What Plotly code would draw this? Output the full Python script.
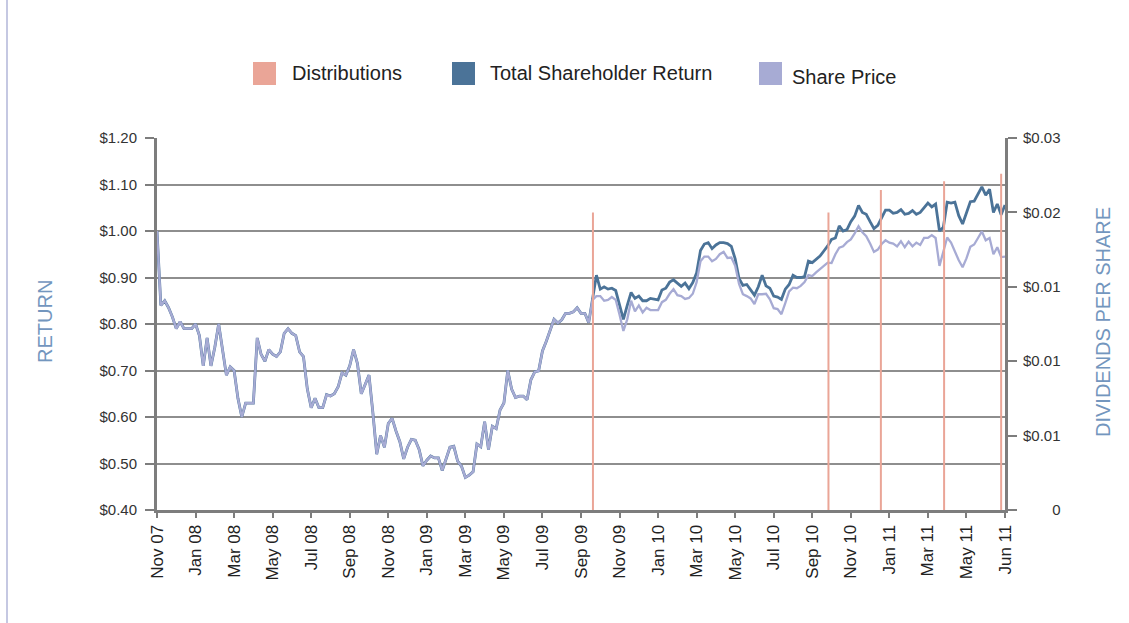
import plotly.graph_objects as go

# ---------------- data ----------------
tick_labels = ["Nov 07", "Jan 08", "Mar 08", "May 08", "Jul 08", "Sep 08", "Nov 08",
               "Jan 09", "Mar 09", "May 09", "Jul 09", "Sep 09", "Nov 09", "Jan 10",
               "Mar 10", "May 10", "Jul 10", "Sep 10", "Nov 10", "Jan 11", "Mar 11",
               "May 11", "Jun 11"]
points_per_label = 10  # sampled periods between consecutive tick labels

share_price = [
    1.00, 0.84, 0.85, 0.835, 0.815, 0.79, 0.805, 0.79, 0.79, 0.79,
    0.80, 0.775, 0.71, 0.77, 0.71, 0.75, 0.80, 0.745, 0.69, 0.708,
    0.70, 0.64, 0.60, 0.63, 0.63, 0.63, 0.77, 0.735, 0.72, 0.745,
    0.735, 0.73, 0.74, 0.78, 0.79, 0.78, 0.775, 0.74, 0.73, 0.66,
    0.62, 0.64, 0.62, 0.62, 0.648, 0.645, 0.65, 0.665, 0.695, 0.69,
    0.71, 0.745, 0.715, 0.65, 0.67, 0.69, 0.61, 0.52, 0.56, 0.535,
    0.586, 0.597, 0.57, 0.547, 0.51, 0.535, 0.552, 0.55, 0.53, 0.495,
    0.507, 0.516, 0.512, 0.512, 0.485, 0.51, 0.535, 0.537, 0.505, 0.494,
    0.47, 0.475, 0.482, 0.542, 0.536, 0.59, 0.53, 0.58, 0.575, 0.615,
    0.63, 0.70, 0.66, 0.642, 0.645, 0.645, 0.637, 0.68, 0.697, 0.699,
    0.742, 0.763, 0.785, 0.81, 0.802, 0.809, 0.823, 0.823, 0.826, 0.835,
    0.823, 0.823, 0.803, 0.852, 0.86, 0.86, 0.85, 0.852, 0.858, 0.852,
    0.82, 0.785, 0.81, 0.85, 0.827, 0.84, 0.825, 0.835, 0.83, 0.83,
    0.83, 0.847, 0.852, 0.865, 0.875, 0.862, 0.86, 0.854, 0.856, 0.865,
    0.89, 0.935, 0.945, 0.945, 0.935, 0.94, 0.95, 0.955, 0.942, 0.943,
    0.925, 0.886, 0.864, 0.86, 0.855, 0.843, 0.864, 0.864, 0.865, 0.853,
    0.834, 0.832, 0.821, 0.845, 0.87, 0.878, 0.877, 0.882, 0.89, 0.905,
    0.903, 0.911, 0.918, 0.924, 0.932, 0.931, 0.95, 0.964, 0.967, 0.976,
    0.982, 0.995, 1.01, 0.997, 0.989, 0.973, 0.955, 0.96, 0.972, 0.98,
    0.975, 0.973, 0.967, 0.978, 0.965, 0.977, 0.967, 0.975, 0.97, 0.985,
    0.985, 0.991, 0.985, 0.925, 0.953, 0.986, 0.975, 0.955, 0.937, 0.922,
    0.941, 0.966, 0.971, 0.985, 0.999, 0.98, 0.985, 0.95, 0.965, 0.944, 0.945,
]

# Total shareholder return equals the share price until the first distribution
first_distribution_index = 113
tsr_after_first_distribution = [
    0.859, 0.905, 0.875, 0.88, 0.875, 0.877, 0.872,
    0.84, 0.81, 0.84, 0.868, 0.855, 0.86, 0.85, 0.85, 0.855, 0.854,
    0.852, 0.873, 0.877, 0.89, 0.895, 0.888, 0.881, 0.888, 0.876, 0.889,
    0.91, 0.958, 0.972, 0.975, 0.962, 0.97, 0.975, 0.975, 0.973, 0.967,
    0.94, 0.898, 0.883, 0.885, 0.873, 0.862, 0.88, 0.905, 0.882, 0.877,
    0.86, 0.858, 0.853, 0.875, 0.885, 0.905, 0.9, 0.9, 0.902, 0.935,
    0.932, 0.939, 0.946, 0.957, 0.968, 0.982, 0.985, 1.011, 1.0, 1.003,
    1.02, 1.032, 1.055, 1.04, 1.036, 1.02, 1.005, 1.012, 1.028, 1.045,
    1.045, 1.038, 1.04, 1.046, 1.036, 1.038, 1.044, 1.036, 1.04, 1.05,
    1.06, 1.052, 1.058, 1.0, 1.008, 1.062, 1.06, 1.062, 1.033, 1.015,
    1.038, 1.063, 1.064, 1.08, 1.095, 1.077, 1.09, 1.04, 1.058, 1.035, 1.056,
]
total_shareholder_return = share_price[:first_distribution_index] + tsr_after_first_distribution

distribution_period = [113.1, 174.2, 187.8, 204.2, 219.0]
distribution_per_share = [0.0200, 0.0200, 0.0215, 0.0221, 0.0226]

left_ticks = [0.40, 0.50, 0.60, 0.70, 0.80, 0.90, 1.00, 1.10, 1.20]
right_ticks = [0, 0.005, 0.010, 0.015, 0.020, 0.025]
right_tick_text = ["\u00a0" * 7 + "0", "$0.01", "$0.01", "$0.01", "$0.02", "$0.03"]

# ---------------- styles ----------------
C_DIST = "#eaa597"
C_TSR = "#4b7398"
C_SP = "#a7abd4"
C_AXIS = "#7d7d7d"
C_GRID = "#8e8e8e"
C_TITLE = "#7396be"
FONT = "Liberation Sans, Arial, Helvetica, sans-serif"

W, H = 1129, 623
L, R, T, B = 157, 1005, 138, 510  # plot area in pixels


def px(xp):
    return (xp - L) / (R - L)


def py(yp):
    return (B - yp) / (B - T)


periods = list(range(len(share_price)))
n_intervals = (len(tick_labels) - 1) * points_per_label
tick_positions = [i * points_per_label for i in range(len(tick_labels))]

# distributions drawn as thin vertical stems from zero to the amount
stem_x, stem_y = [], []
for p, v in zip(distribution_period, distribution_per_share):
    stem_x += [p, p, None]
    stem_y += [0, v, None]

fig = go.Figure()
fig.add_trace(go.Scatter(x=periods, y=total_shareholder_return, mode="lines",
                         line=dict(color=C_TSR, width=2.8), name="Total Shareholder Return",
                         showlegend=False, hoverinfo="skip"))
fig.add_trace(go.Scatter(x=periods, y=share_price, mode="lines",
                         line=dict(color=C_SP, width=2.3), name="Share Price",
                         showlegend=False, hoverinfo="skip"))
fig.add_trace(go.Scatter(x=stem_x, y=stem_y, yaxis="y2", mode="lines",
                         line=dict(color=C_DIST, width=2), name="Distributions",
                         showlegend=False, hoverinfo="skip"))

fig.update_layout(
    width=W, height=H,
    margin=dict(l=L, r=W - R, t=T, b=H - B, pad=0),
    paper_bgcolor="white", plot_bgcolor="white",
    font=dict(family=FONT, color="#333333"),
    showlegend=False,
    xaxis=dict(
        range=[0, n_intervals], tickmode="array", tickvals=tick_positions,
        ticktext=tick_labels, tickangle=-90, tickfont=dict(size=17, color="#222"),
        showgrid=False, zeroline=False, showline=True, linecolor=C_AXIS, linewidth=3,
        ticks="outside", ticklen=5, tickwidth=2, tickcolor=C_AXIS,
    ),
    yaxis=dict(
        range=[0.40, 1.20], tickmode="array", tickvals=left_ticks, tickformat="$.2f",
        tickfont=dict(size=15, color="#333"), ticklabelstandoff=5,
        showgrid=True, gridcolor=C_GRID, gridwidth=2, zeroline=False,
        showline=True, linecolor=C_AXIS, linewidth=3,
        ticks="outside", ticklen=9, tickwidth=2, tickcolor=C_AXIS,
    ),
    yaxis2=dict(
        range=[0, 0.025], overlaying="y", side="right", tickmode="array",
        tickvals=right_ticks, ticktext=right_tick_text,
        tickfont=dict(size=15, color="#333"), ticklabelstandoff=3,
        showgrid=False, zeroline=False, showline=True, linecolor=C_AXIS, linewidth=3,
        ticks="outside", ticklen=9, tickwidth=2, tickcolor=C_AXIS,
    ),
)

# axis titles
fig.add_annotation(text="RETURN", xref="paper", yref="paper", x=px(45), y=py(322),
                   textangle=-90, showarrow=False, font=dict(size=20, color=C_TITLE),
                   xanchor="center", yanchor="middle")
fig.add_annotation(text="DIVIDENDS PER SHARE", xref="paper", yref="paper", x=px(1103),
                   y=py(322), textangle=-90, showarrow=False,
                   font=dict(size=20, color=C_TITLE), xanchor="center", yanchor="middle")

# legend (drawn manually to match the square swatches)
legend_items = [("Distributions", C_DIST, 253, 290, 73),
                ("Total Shareholder Return", C_TSR, 452, 488, 73),
                ("Share Price", C_SP, 759, 790, 77)]
for name, color, sx, tx, ty in legend_items:
    fig.add_shape(type="rect", xref="paper", yref="paper",
                  x0=px(sx), x1=px(sx + 23), y0=py(62), y1=py(85),
                  fillcolor=color, line=dict(width=0))
    fig.add_annotation(text=name, xref="paper", yref="paper", x=px(tx), y=py(ty),
                       showarrow=False, xanchor="left", yanchor="middle",
                       font=dict(size=20, color="#222"))

# thin page border on the left
fig.add_shape(type="line", xref="paper", yref="paper", x0=px(7), x1=px(7), y0=py(0), y1=py(H),
              line=dict(color="#c5c8e2", width=2))

fig.write_html("out.html", config={"displayModeBar": False},
               post_script="document.body.style.margin='0px';")
